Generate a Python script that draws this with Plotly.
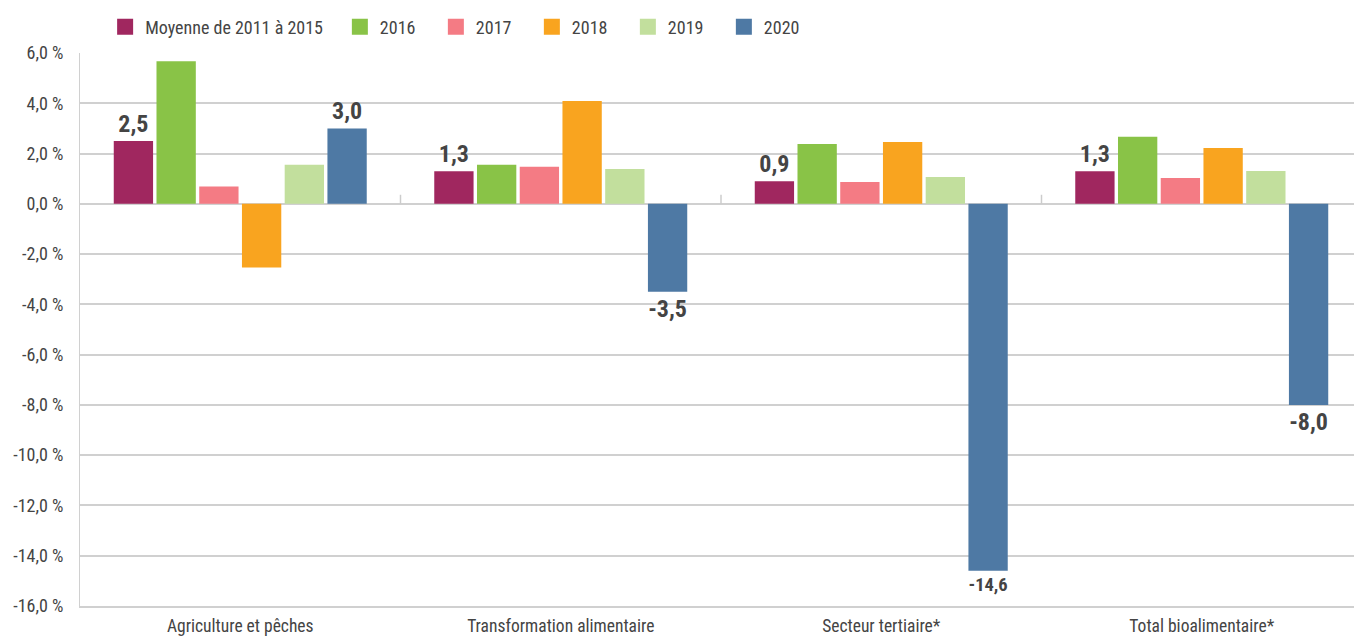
import plotly.graph_objects as go

categories = ["Agriculture et pêches", "Transformation alimentaire", "Secteur tertiaire*", "Total bioalimentaire*"]
series_names = ["Moyenne de 2011 à 2015", "2016", "2017", "2018", "2019", "2020"]
moyenne = [2.5, 1.3, 0.9, 1.3]
y2016 = [5.67, 1.55, 2.38, 2.67]
y2017 = [0.69, 1.47, 0.87, 1.03]
y2018 = [-2.53, 4.09, 2.46, 2.22]
y2019 = [1.55, 1.39, 1.07, 1.31]
y2020 = [3.0, -3.5, -14.6, -8.0]
labelled = [True, False, False, False, False, True]
colors = ["#A0275F", "#89C347", "#F47B84", "#F9A41F", "#C2DF9D", "#4E79A4"]
tick_vals = [6, 4, 2, 0, -2, -4, -6, -8, -10, -12, -14, -16]
tick_text = ["6,0 %", "4,0 %", "2,0 %", "0,0 %", "-2,0 %", "-4,0 %", "-6,0 %", "-8,0 %",
             "-10,0 %", "-12,0 %", "-14,0 %", "-16,0 %"]

FONT = "Liberation Sans Narrow, Roboto Condensed, Arial Narrow, sans-serif"

fig = go.Figure()
all_series = [moyenne, y2016, y2017, y2018, y2019, y2020]
for i, (name, vals, col, lab) in enumerate(zip(series_names, all_series, colors, labelled)):
    txt = [f"{v:.1f}".replace(".", ",") for v in vals] if lab else None
    fig.add_trace(go.Bar(
        x=categories, y=vals, name=name, marker=dict(color=col, line=dict(width=0)),
        text=txt, textposition="outside" if lab else "none",
        textfont=dict(family=FONT, size=24, color="#444444", weight="bold"),
        cliponaxis=False, showlegend=False,
    ))
    # legend-only entry with a larger square swatch
    fig.add_trace(go.Scatter(
        x=[None], y=[None], mode="markers", name=name,
        marker=dict(symbol="square", size=22, color=col),
        legend="legend" if i == 0 else "legend2", showlegend=True,
    ))

# small separator ticks between categories, rising from the zero line
for i in range(len(categories) - 1):
    fig.add_shape(type="line", xref="x", yref="y", x0=i + 0.5, x1=i + 0.5, y0=0, y1=0.36,
                  line=dict(color="#cccccc", width=1.5))

legend_font = dict(family=FONT, size=18, color="#444444")
fig.update_layout(
    width=1362, height=637,
    margin=dict(l=72, r=8, t=45, b=39, autoexpand=False),
    plot_bgcolor="white", paper_bgcolor="white",
    barmode="group", bargap=0.2, bargroupgap=0.08,
    font=dict(family=FONT, size=15, color="#444444"),
    legend=dict(orientation="h", x=0.0196, xanchor="left", yref="container",
                y=0.9702, yanchor="middle", font=legend_font, itemwidth=30),
    legend2=dict(orientation="h", x=0.2027, xanchor="left", yref="container",
                 y=0.9702, yanchor="middle", font=legend_font, itemwidth=30, entrywidth=51),
    xaxis=dict(showgrid=False, showline=True, linecolor="#d0d0d0", linewidth=2,
               ticks="", ticklabelstandoff=3,
               tickfont=dict(family=FONT, size=17.5, color="#444444")),
    yaxis=dict(range=[-16, 6], tickvals=tick_vals, ticktext=tick_text,
               showgrid=True, gridcolor="#d0d0d0", gridwidth=1.5,
               zeroline=True, zerolinecolor="#d0d0d0", zerolinewidth=2,
               showline=True, linecolor="#d0d0d0", linewidth=1,
               ticks="", ticklabelstandoff=12, automargin=False,
               tickfont=dict(family=FONT, size=18, color="#444444")),
)

fig.write_html("out.html")
